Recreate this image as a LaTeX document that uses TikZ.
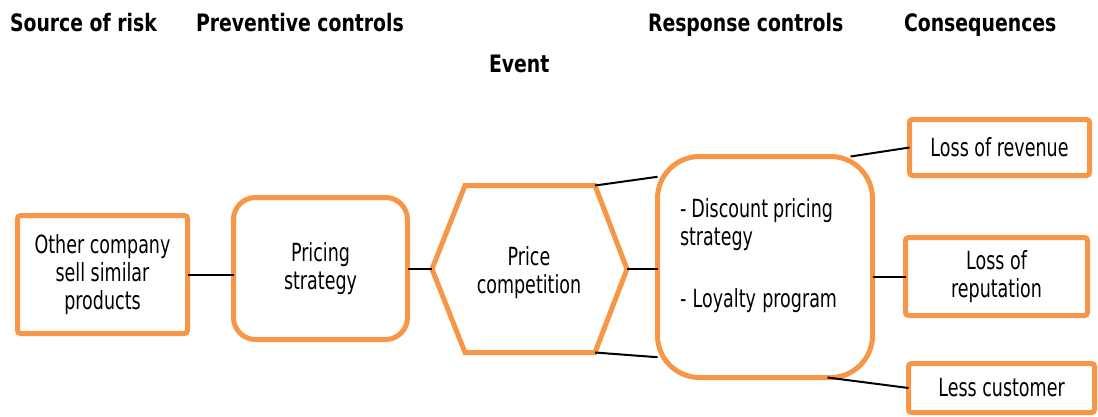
\documentclass[tikz,border=0pt]{standalone}
\usepackage{fontspec}
\setmainfont[FakeStretch=0.70]{DejaVu Sans}
\newfontfamily\hdrfont[FakeStretch=0.785]{DejaVu Sans}
\usetikzlibrary{calc}
\definecolor{acc}{RGB}{247,150,70}
\begin{document}
\begin{tikzpicture}[x=1pt,y=-1pt,
  every node/.style={inner sep=0pt,outer sep=0pt},
  hdr/.style={anchor=base west,font=\hdrfont\bfseries\fontsize{24}{28}\selectfont},
  body/.style={font=\fontsize{25}{28}\selectfont,align=center},
  obox/.style={draw=acc,line width=5pt,rounded corners=3pt,body},
  rbox/.style={draw=acc,line width=5pt,body},
  link/.style={draw=black,line width=2pt}]
\useasboundingbox (0,0) rectangle (1098,416);
% headers
\node[hdr] (h1) at (10,31) {Source of risk};
\node[hdr] (h2) at (196,31) {Preventive controls};
\node[hdr] (h3) at (489,72) {Event};
\node[hdr] (h4) at (648,31) {Response controls};
\node[hdr] (h5) at (904,31) {Consequences};
% nodes
\node[obox,minimum width=170pt,minimum height=118pt] (src) at (102.5,274.5) {Other company\\sell similar\\products};
\node[rbox,rounded corners=22pt,minimum width=174pt,minimum height=142pt] (prev) at (320.5,268.5) {Pricing\\strategy};
\coordinate (hl) at (432,269);
\coordinate (htl) at (465,185.5);
\coordinate (htr) at (595,185.5);
\coordinate (hr) at (627,269);
\coordinate (hbr) at (595,352.5);
\coordinate (hbl) at (465,352.5);
\draw[draw=acc,line width=5pt,line join=miter] (hl) -- (htl) -- (htr) -- (hr) -- (hbr) -- (hbl) -- cycle;
\node[body] (event) at (529,273) {Price\\competition};
\node[rbox,rounded corners=42pt,minimum width=215pt,minimum height=221pt] (resp) at (765,267) {};
\node[anchor=base west,font=\fontsize{25}{28}\selectfont,align=left] (resptxt) at (680,307)
  {\makebox[153pt][s]{- Discount pricing}\\strategy\\[34pt]\makebox[157pt][s]{- Loyalty program}};
\node[obox,minimum width=180pt,minimum height=56pt] (rev) at (999.5,147.5) {Loss of revenue};
\node[obox,minimum width=182pt,minimum height=78pt] (rep) at (996.5,276.5) {Loss of\\reputation};
\node[obox,minimum width=186pt,minimum height=49pt] (cust) at (1001.5,388) {Less customer};
% connectors
\draw[link] (src.east) -- (src.east -| prev.west);
\draw[link] (prev.east |- hl) -- (hl);
\draw[link] (htr) -- (resp.140.7);
\draw[link] (hr) -- (hr -| resp.west);
\draw[link] (hbr) -- (resp.220.8);
\draw[link] ([xshift=-22pt]resp.north east) -- (rev.west);
\draw[link] (rep.west -| resp.east) -- (rep.west);
\draw[link] ([xshift=-45pt]resp.south east) -- (cust.west);
\end{tikzpicture}
\end{document}
